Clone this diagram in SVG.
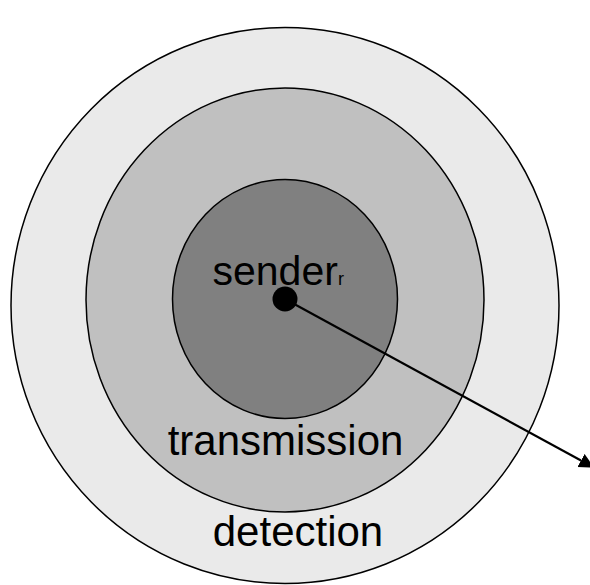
<svg xmlns="http://www.w3.org/2000/svg" width="590" height="585" viewBox="0 0 590 585">
  <style>
    .ring { stroke: #000; stroke-width: 1.5; }
    .lbl { font-family: "Liberation Sans", Arial, sans-serif; fill: #000; }
    .edge { stroke: #000; stroke-width: 2.2; fill: none; }
  </style>
  <defs>
    <marker id="arrowhead" markerUnits="userSpaceOnUse" markerWidth="16" markerHeight="16" refX="0" refY="8" orient="auto">
      <path d="M0,0.5 L15,8 L0,15.5 Z" fill="#000"/>
    </marker>
  </defs>

  <!-- detection range -->
  <g id="detection">
    <ellipse class="ring" cx="285" cy="305.5" rx="274" ry="278" fill="#eaeaea"/>
    <text class="lbl" x="298" y="546" font-size="42" text-anchor="middle">detection</text>
  </g>

  <!-- transmission range -->
  <g id="transmission">
    <ellipse class="ring" cx="285" cy="300" rx="199" ry="212" fill="#c0c0c0"/>
    <text class="lbl" x="285.5" y="455" font-size="42" text-anchor="middle">transmission</text>
  </g>

  <!-- sender core -->
  <g id="sender">
    <ellipse class="ring" cx="285" cy="299" rx="112.5" ry="119.5" fill="#808080"/>
    <text class="lbl" x="212.5" y="285" font-size="41">sender<tspan font-size="18">r</tspan></text>
    <circle cx="285" cy="299" r="12.5" fill="#000"/>
  </g>

  <!-- radius connector -->
  <g id="connectors">
    <line class="edge" x1="285" y1="299" x2="581" y2="460.5" marker-end="url(#arrowhead)"/>
  </g>
</svg>
